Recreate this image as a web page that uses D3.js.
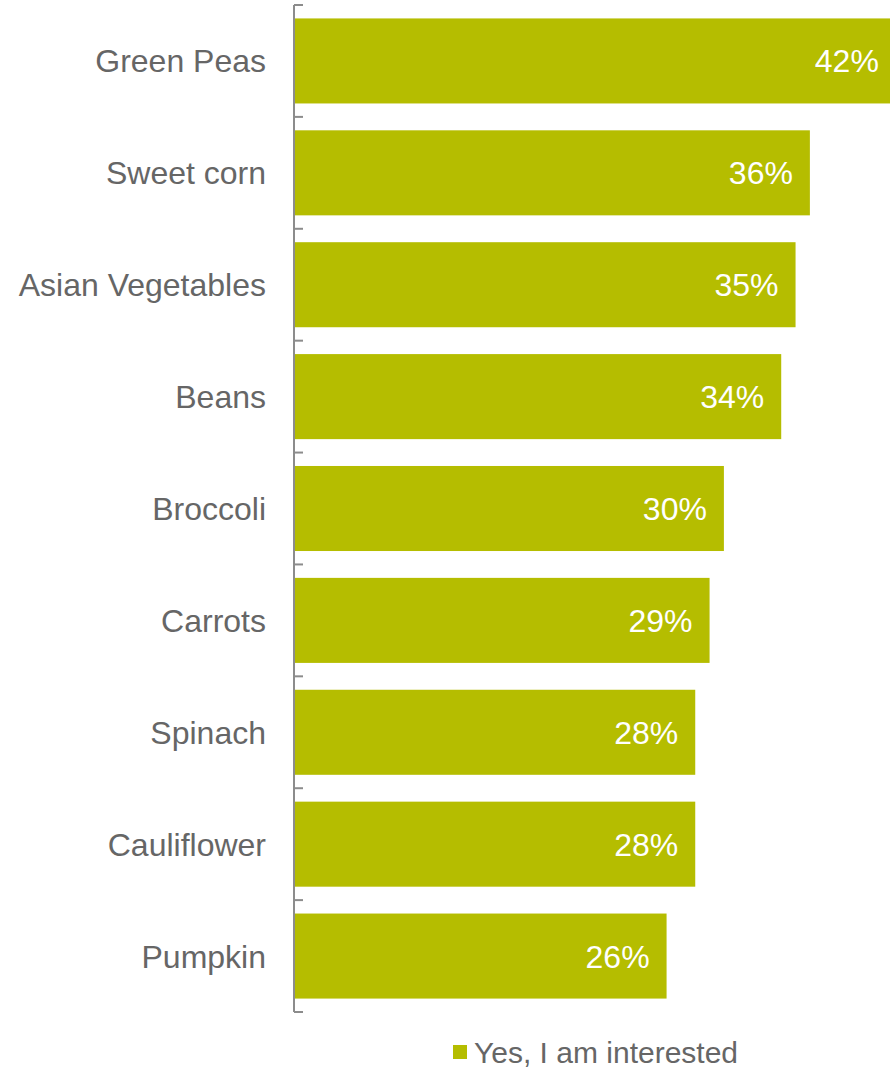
<!DOCTYPE html>
<html>
<head>
<meta charset="utf-8">
<script src="https://cdn.jsdelivr.net/npm/d3@7"></script>
<style>
  body { margin: 0; background: #fff; }
  svg { display: block; }
</style>
</head>
<body>
<div id="chart"></div>
<script>
// data
var categories = ["Green Peas", "Sweet corn", "Asian Vegetables", "Beans", "Broccoli",
                  "Carrots", "Spinach", "Cauliflower", "Pumpkin"];
var values = [42, 36, 35, 34, 30, 29, 28, 28, 26];
var seriesName = "Yes, I am interested";

var data = categories.map(function(c, i) { return {name: c, value: values[i]}; });

var W = 890, H = 1068;
var margin = {top: 5, right: 0, bottom: 56, left: 294};
var height = H - margin.top - margin.bottom;
var font = "'Liberation Sans', Arial, sans-serif";

var svg = d3.select("#chart").append("svg")
    .attr("width", W)
    .attr("height", H);

var g = svg.append("g")
    .attr("transform", "translate(" + margin.left + "," + margin.top + ")");

// 1% ~ 14.33px, longest bar runs past the right edge
var x = d3.scaleLinear().domain([0, 42]).range([0, 42 * 14.33]);
var y = d3.scaleBand().domain(categories).range([0, height]).paddingInner(0.24).paddingOuter(0.12);

var barColor = "#b5bd00";
var textColor = "#666666";

// bars
g.selectAll("rect.bar")
    .data(data)
    .enter().append("rect")
    .attr("class", "bar")
    .attr("x", 1)
    .attr("y", function(d) { return y(d.name); })
    .attr("width", function(d) { return x(d.value) - 1; })
    .attr("height", y.bandwidth())
    .attr("fill", barColor);

// value labels
g.selectAll("text.val")
    .data(data)
    .enter().append("text")
    .attr("class", "val")
    .attr("x", function(d) { return x(d.value) - 17; })
    .attr("y", function(d) { return y(d.name) + y.bandwidth() / 2; })
    .attr("dy", "0.36em")
    .attr("text-anchor", "end")
    .style("font-family", font)
    .style("font-size", "32px")
    .style("fill", "#fff")
    .text(function(d) { return d.value + "%"; });

// category labels
g.selectAll("text.cat")
    .data(data)
    .enter().append("text")
    .attr("class", "cat")
    .attr("x", -28)
    .attr("y", function(d) { return y(d.name) + y.bandwidth() / 2; })
    .attr("dy", "0.36em")
    .attr("text-anchor", "end")
    .style("font-family", font)
    .style("font-size", "32px")
    .style("fill", textColor)
    .text(function(d) { return d.name; });

// axis line with ticks at band boundaries
var boundaries = d3.range(categories.length + 1).map(function(i) { return i * height / categories.length; });
g.append("line")
    .attr("x1", 0).attr("x2", 0)
    .attr("y1", 0).attr("y2", height)
    .attr("stroke", "#8c8c8c")
    .attr("stroke-width", 2);
g.selectAll("line.tick")
    .data(boundaries)
    .enter().append("line")
    .attr("class", "tick")
    .attr("x1", 0).attr("x2", 9)
    .attr("y1", function(d) { return d; })
    .attr("y2", function(d) { return d; })
    .attr("stroke", "#8c8c8c")
    .attr("stroke-width", 2);

// legend
var legend = svg.append("g").attr("transform", "translate(453,1045)");
legend.append("rect")
    .attr("width", 14).attr("height", 14)
    .attr("fill", barColor);
legend.append("text")
    .attr("x", 21).attr("y", 7)
    .attr("dy", "0.36em")
    .style("font-family", font)
    .style("font-size", "30px")
    .style("fill", textColor)
    .text(seriesName);
</script>
</body>
</html>
